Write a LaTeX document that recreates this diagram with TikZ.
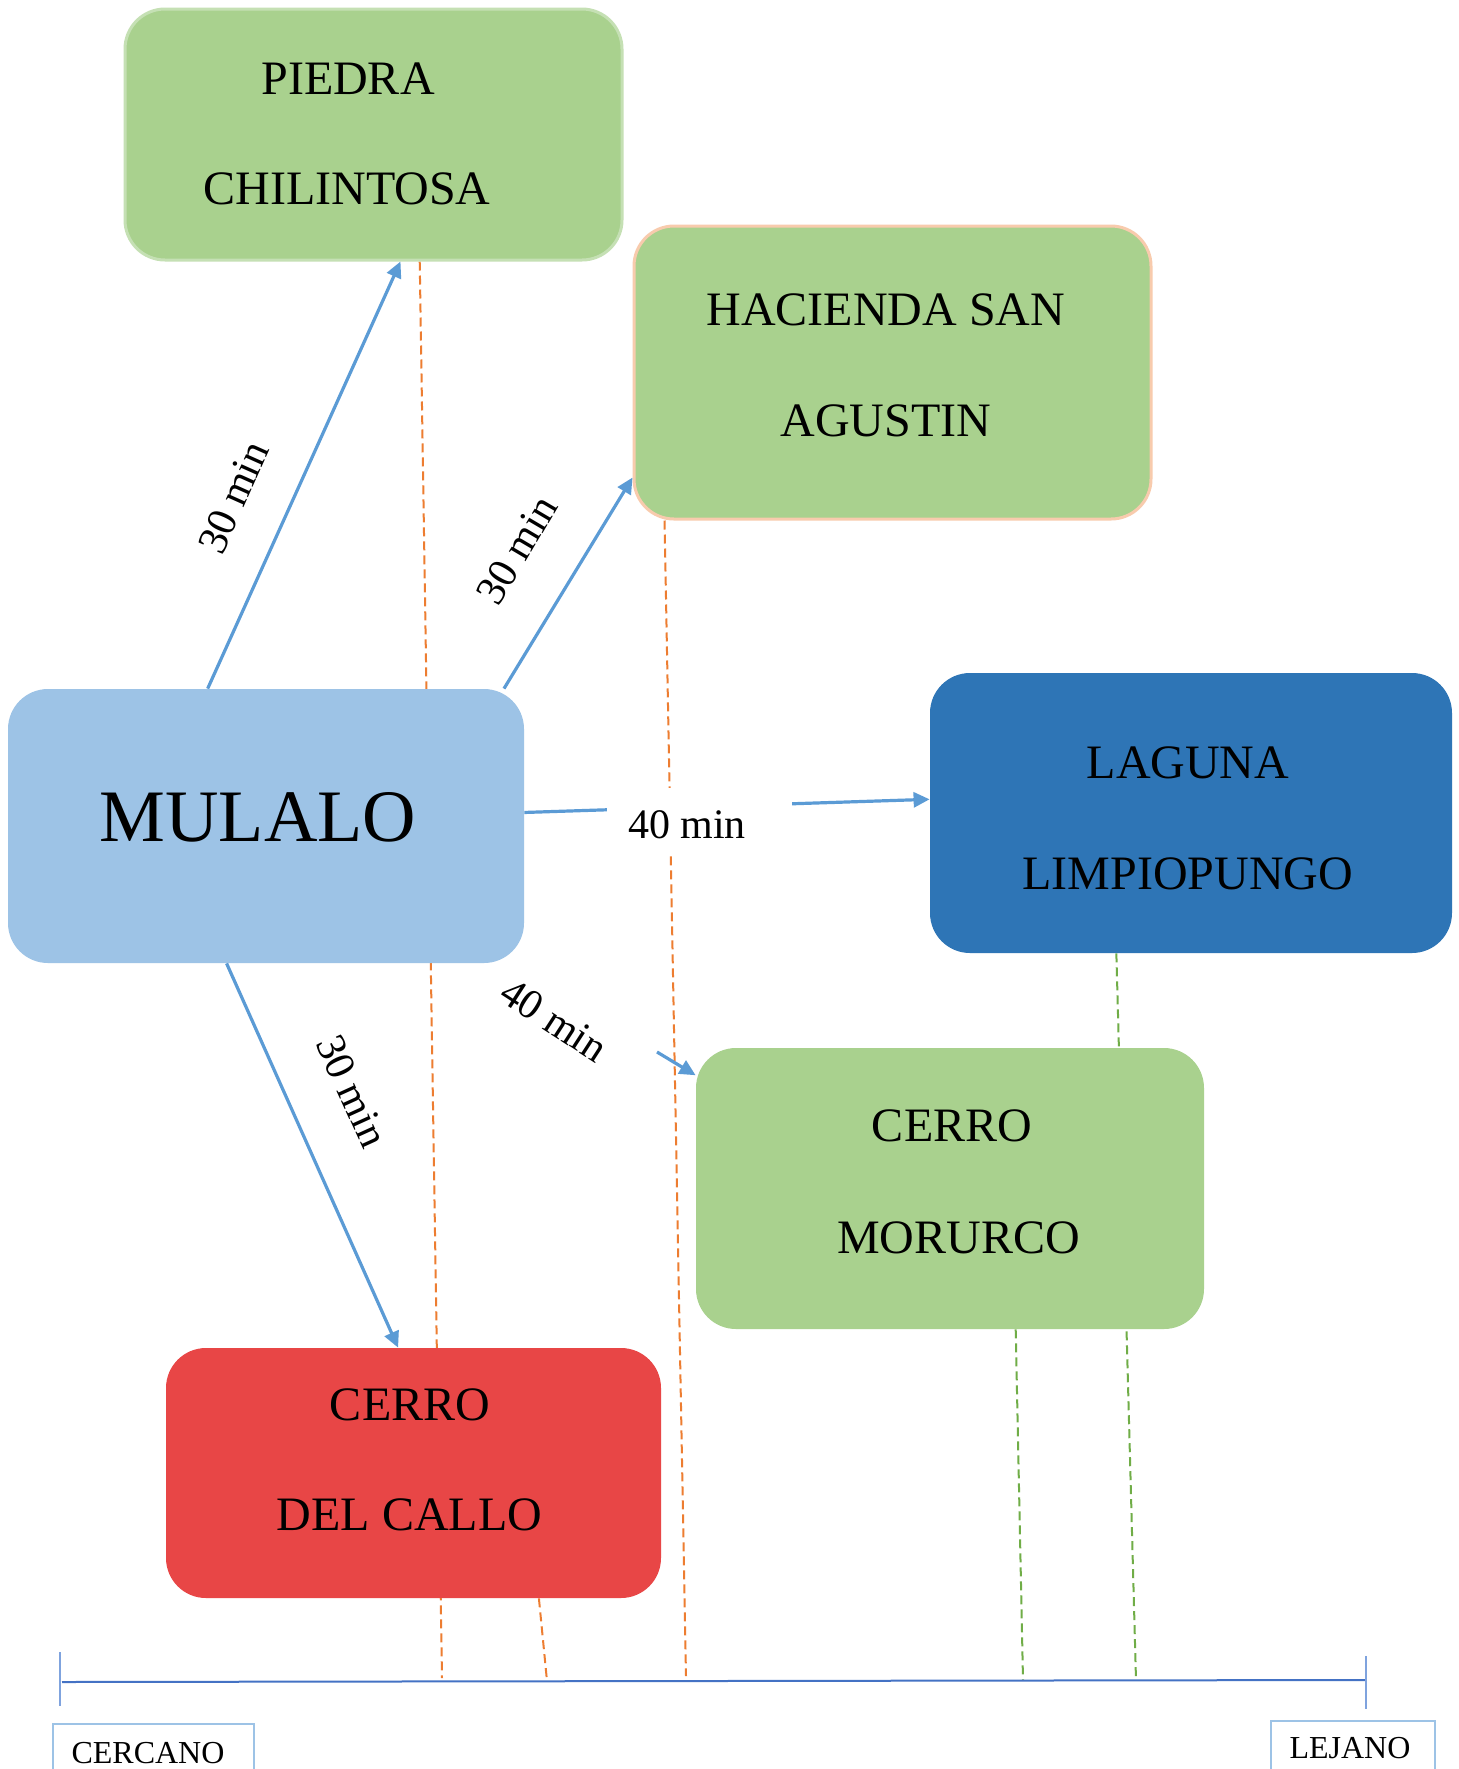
\documentclass[tikz,border=0pt]{standalone}
\usepackage{fontspec}
\setmainfont{Liberation Serif}
\usetikzlibrary{arrows.meta}
\pgfdeclarelayer{bottom}
\pgfdeclarelayer{background}
\pgfsetlayers{bottom,background,main}
\definecolor{boxgreen}{HTML}{A9D18E}
\definecolor{greenedge}{HTML}{C5E0B4}
\definecolor{peachedge}{HTML}{F8CBAD}
\definecolor{lightblue}{HTML}{9DC3E6}
\definecolor{darkblue}{HTML}{2E75B6}
\definecolor{boxred}{HTML}{E84646}
\definecolor{arrowblue}{HTML}{5B9BD5}
\definecolor{dashorange}{HTML}{ED7D31}
\definecolor{dashgreen}{HTML}{70AD47}
\definecolor{axisblue}{HTML}{4472C4}
\definecolor{tickblue}{HTML}{7FA3DE}
\tikzset{
  place/.style={rectangle, rounded corners=20pt, inner sep=0pt, draw=none},
  boxtext/.style={inner sep=0pt, font=\fontsize{24}{28}\selectfont},
  timelabel/.style={inner sep=0pt, font=\fontsize{21}{25}\selectfont},
  conn/.style={draw=arrowblue, line width=1.6pt, -{Triangle[length=8pt,width=7.5pt]}},
  odash/.style={draw=dashorange, line width=1pt, dash pattern=on 4.5pt off 2.5pt},
  gdash/.style={draw=dashgreen, line width=1pt, dash pattern=on 4.5pt off 2.5pt},
  scalebox/.style={rectangle, draw=lightblue, line width=1pt, inner sep=0pt, fill=white},
  scaletext/.style={inner sep=0pt, font=\fontsize{16}{19}\selectfont}
}
\begin{document}
\begin{tikzpicture}[x=0.5pt,y=-0.5pt]
\begin{pgfonlayer}{bottom}
\fill[white] (0,0) rectangle (1459,1769);
\end{pgfonlayer}
\clip (0,0) rectangle (1459,1769);

% boxes
\node[place, fill=boxgreen, draw=greenedge, line width=1.5pt, minimum width=248.5pt, minimum height=125.5pt] (piedra) at (373.5,134.5) {};
\node[place, fill=boxgreen, draw=peachedge, line width=1.5pt, minimum width=258.5pt, minimum height=146.5pt] (hacienda) at (892.5,372.5) {};
\node[place, fill=lightblue, minimum width=258pt, minimum height=137pt] (mulalo) at (266,826) {};
\node[place, fill=darkblue, minimum width=261pt, minimum height=140pt] (laguna) at (1191,813) {};
\node[place, fill=boxgreen, minimum width=254pt, minimum height=140.5pt] (morurco) at (950,1188.5) {};
\node[place, fill=boxred, minimum width=247.5pt, minimum height=125pt] (callo) at (413.5,1473) {};

% box texts
\node[boxtext] (piedraA) at (348,78.5) {PIEDRA};
\node[boxtext] (piedraB) at (347,188.5) {CHILINTOSA};
\node[boxtext] (haciendaA) at (886,310) {HACIENDA SAN};
\node[boxtext] (haciendaB) at (886,421) {AGUSTIN};
\node[inner sep=0pt, font=\fontsize{37}{42}\selectfont] (mulaloT) at (258,817) {MULALO};
\node[boxtext] (lagunaA) at (1188,763) {LAGUNA};
\node[boxtext] (lagunaB) at (1188,874) {LIMPIOPUNGO};
\node[boxtext] (morurcoA) at (952,1126) {CERRO};
\node[boxtext] (morurcoB) at (958.5,1237.5) {MORURCO};
\node[boxtext] (calloA) at (410,1405) {CERRO};
\node[boxtext] (calloB) at (409.5,1515) {DEL CALLO};

% dashed guide lines (behind boxes)
\coordinate (o1) at (442,1678);
\coordinate (o2) at (686,1676);
\coordinate (o3) at (547,1681);
\coordinate (g1) at (1136,1680);
\coordinate (g2) at (1023,1680);
\begin{pgfonlayer}{background}
\draw[odash] (piedra.-70.1) -- (o1);
\draw[odash] (hacienda.-147.1) -- (o2);
\draw[odash] (callo.-45.1) -- (o3);
\draw[gdash] (laguna.-118.2) -- (g1);
\draw[gdash] (morurco.-65.5) -- (g2);
\end{pgfonlayer}

% connectors
\draw[conn] (mulalo.113.6) -- (piedra.-78.1);
\draw[conn] (mulalo.30) -- (hacienda.-158);
\draw[conn] (mulalo.3) -- (laguna.177.8);
\coordinate (c4) at (657,1052);
\draw[conn] (c4) -- (morurco.156);
\draw[conn] (mulalo.-106.7) -- (callo.97.8);

% time labels
\node[timelabel, rotate=65.9] (lab1) at (233.5,497.5) {30 min};
\node[timelabel, rotate=59.5] (lab2) at (517,550) {30 min};
\node[fill=white, inner sep=0pt, minimum width=92.5pt, minimum height=32pt] (gap3) at (699.5,820) {};
\node[timelabel] (lab3) at (687,825) {40 min};
\node[timelabel, rotate=-33] (lab4) at (554,1020) {40 min};
\node[timelabel, rotate=-65.6] (lab5) at (352,1091) {30 min};

% scale axis
\coordinate (axL) at (62,1682);
\coordinate (axR) at (1366,1680);
\coordinate (tL1) at (60,1652);
\coordinate (tL2) at (60,1706);
\coordinate (tR1) at (1366,1656);
\coordinate (tR2) at (1366,1709);
\draw[axisblue, line width=1pt] (axL) -- (axR);
\draw[tickblue, line width=1pt] (tL1) -- (tL2);
\draw[tickblue, line width=1pt] (tR1) -- (tR2);

\node[scalebox, minimum width=100.5pt, minimum height=40pt, anchor=north west] (cercano) at (52,1723) {};
\node[scaletext] (cercanoT) at (148,1753) {CERCANO};
\node[scalebox, minimum width=82pt, minimum height=40pt, anchor=north west] (lejano) at (1270,1720) {};
\node[scaletext] (lejanoT) at (1350,1748) {LEJANO};
\end{tikzpicture}
\end{document}
